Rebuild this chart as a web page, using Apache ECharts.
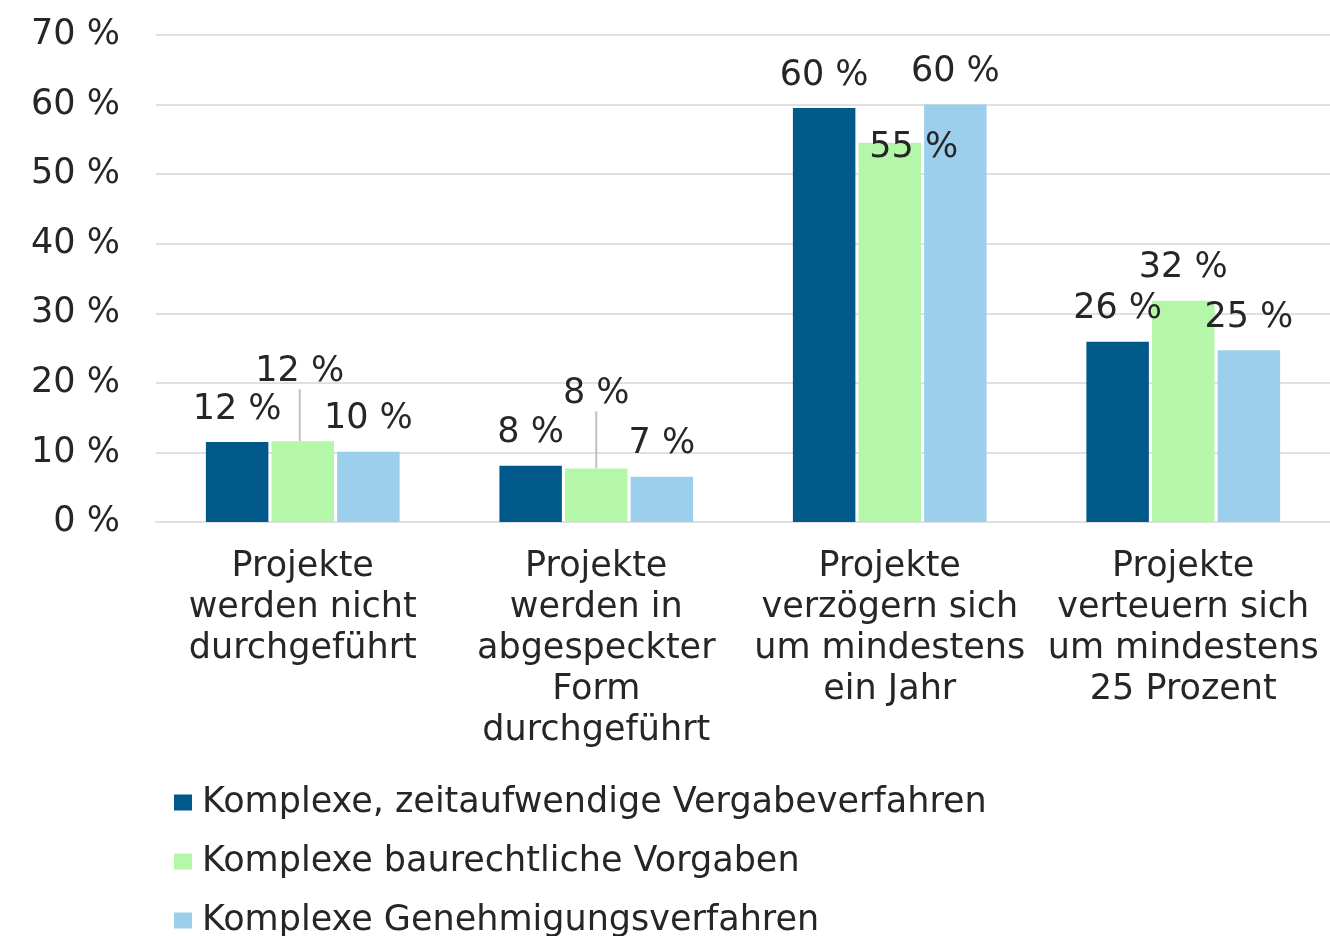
<!DOCTYPE html>
<html>
<head>
<meta charset="utf-8">
<script src="https://cdn.jsdelivr.net/npm/echarts@6/dist/echarts.min.js"></script>
<style>
  html, body { margin: 0; padding: 0; background: #fff; }
  #chart { width: 1330px; height: 936px; }
</style>
</head>
<body>
<div id="chart"></div>
<script>
// Kategorien (x-Achse)
const categories = [
  'Projekte\nwerden nicht\ndurchgeführt',
  'Projekte\nwerden in\nabgespeckter\nForm\ndurchgeführt',
  'Projekte\nverzögern sich\num mindestens\nein Jahr',
  'Projekte\nverteuern sich\num mindestens\n25 Prozent'
]
const seriesNames = [
  'Komplexe, zeitaufwendige Vergabeverfahren',
  'Komplexe baurechtliche Vorgaben',
  'Komplexe Genehmigungsverfahren'
]
// Werte in Prozent
const vergabe = [11.5, 8.1, 59.5, 25.9]
const baurecht = [11.6, 7.7, 54.5, 31.8]
const genehmigung = [10.1, 6.5, 60, 24.7]
const yTicks = [0, 10, 20, 30, 40, 50, 60, 70]

const colors = ['#00598a', '#b5f7a8', '#9bcfeb']
const textColor = '#262626'
const font = 'DejaVu Sans, sans-serif'
const fontSize = 35

// verschobene Beschriftungen (Serie-Kategorie)
const labelShift = {
  '1-0': { dx: -3, dy: -37, line: true },
  '1-1': { dx: 0, dy: -42, line: true },
  '1-2': { dx: 24, dy: 38, line: false }
}

const chart = echarts.init(document.getElementById('chart'))

const allData = [vergabe, baurecht, genehmigung]
const series = allData.map((vals, si) => ({
  name: seriesNames[si],
  type: 'bar',
  barGap: '5%',
  barCategoryGap: '34%',
  itemStyle: { color: colors[si] },
  data: vals.map((v, ci) => {
    const s = labelShift[si + '-' + ci]
    return {
      value: v,
      labelLine: { show: !!(s && s.line) }
    }
  }),
  label: {
    show: true,
    position: 'top',
    distance: 15,
    color: textColor,
    fontSize: fontSize,
    fontFamily: font,
    formatter: p => Math.round(p.value) + ' %'
  },
  labelLine: {
    lineStyle: { color: '#bfbfbf', width: 2 }
  },
  labelLayout: params => {
    const s = labelShift[si + '-' + params.dataIndex]
    if (!s) return {}
    return { dx: s.dx, dy: s.dy }
  }
}))

chart.setOption({
  animation: false,
  textStyle: { fontFamily: font },
  grid: {
    left: 156,
    width: 1176,
    top: 35,
    bottom: 414
  },
  legend: {
    orient: 'vertical',
    left: 169,
    top: 780,
    height: 200,
    itemGap: 24,
    itemWidth: 18,
    itemHeight: 16,
    icon: 'rect',
    textStyle: { color: textColor, fontSize: fontSize, fontFamily: font, padding: [0, 0, 0, 5] },
    data: seriesNames
  },
  xAxis: {
    type: 'category',
    data: categories,
    axisTick: { show: false },
    axisLine: { lineStyle: { color: '#dfe1e1', width: 2 } },
    axisLabel: {
      interval: 0,
      margin: 25,
      color: textColor,
      fontSize: fontSize,
      lineHeight: 40.8,
      fontFamily: font
    }
  },
  yAxis: {
    type: 'value',
    min: yTicks[0],
    max: yTicks[yTicks.length - 1],
    interval: 10,
    axisLine: { show: false },
    axisTick: { show: false },
    axisLabel: {
      margin: 36,
      color: textColor,
      fontSize: fontSize,
      fontFamily: font,
      formatter: v => v + ' %'
    },
    splitLine: { lineStyle: { color: '#dfe1e1', width: 2 } }
  },
  series: series
})
</script>
</body>
</html>
